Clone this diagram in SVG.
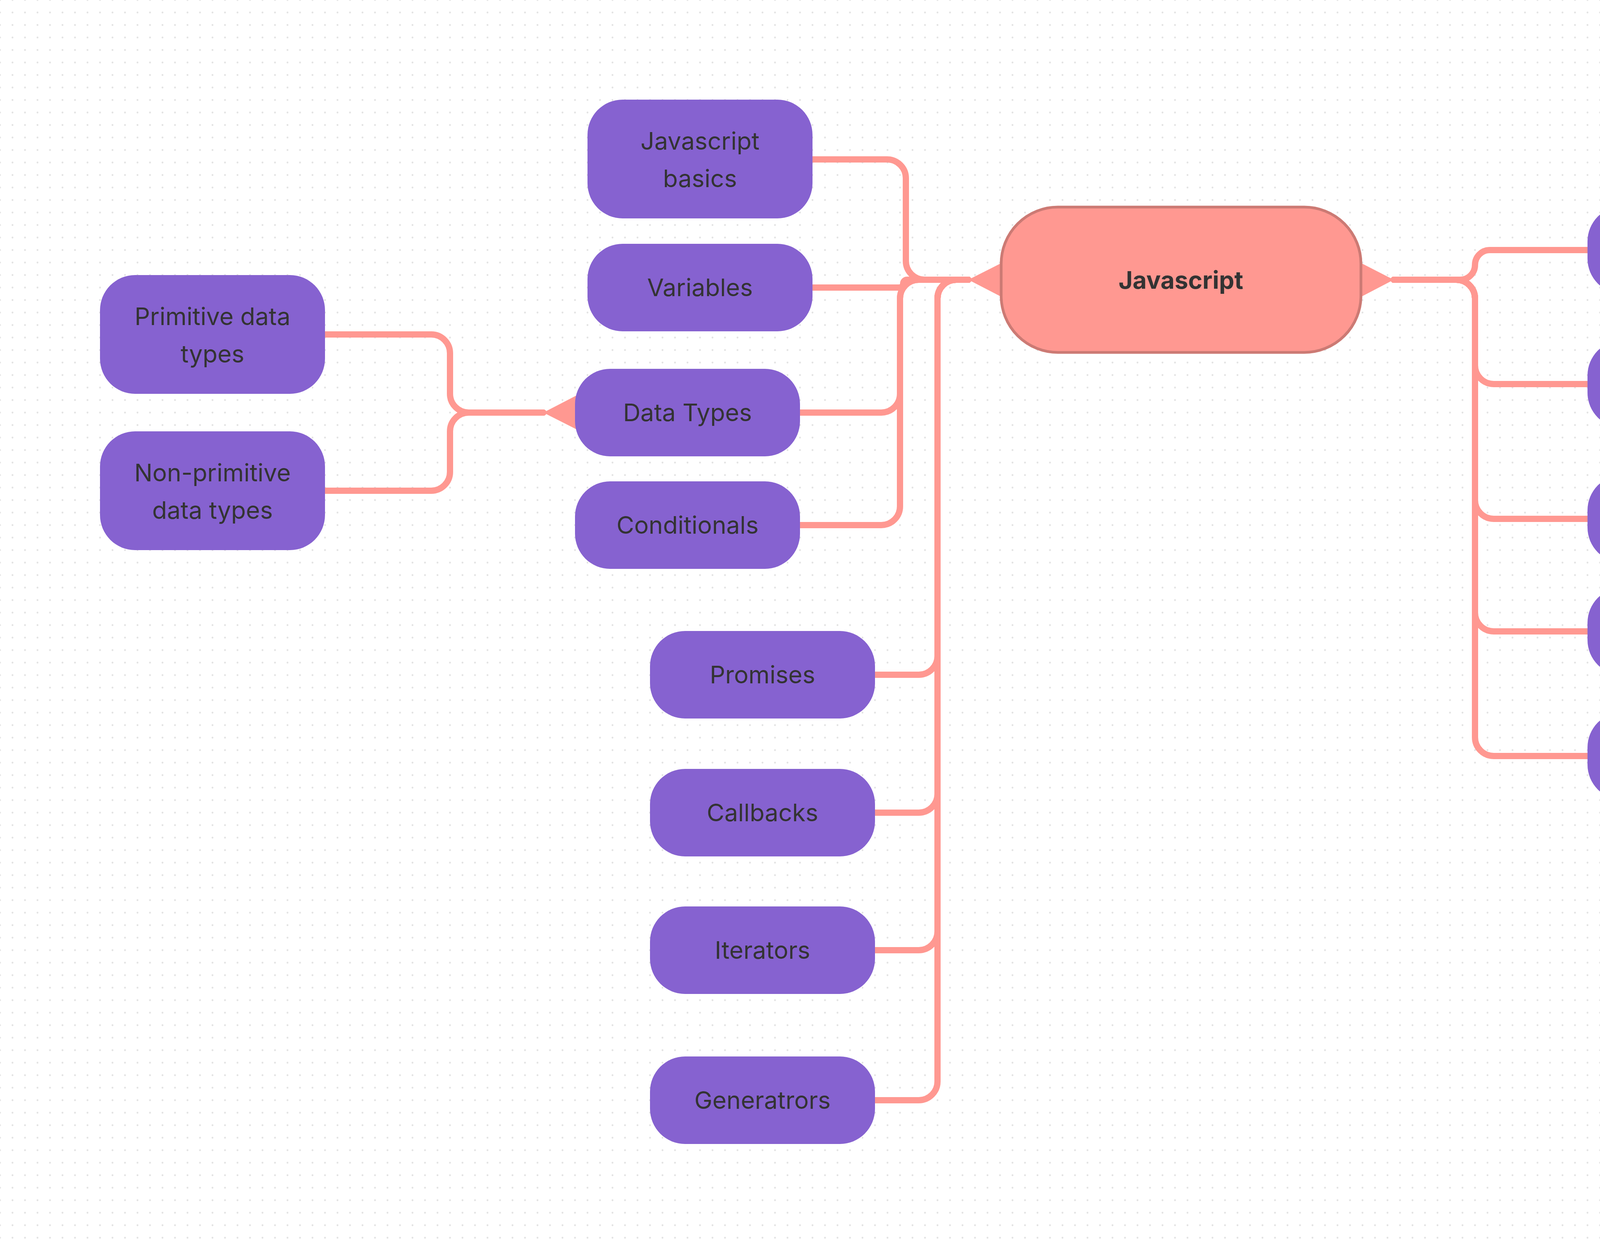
<svg xmlns="http://www.w3.org/2000/svg" width="6112" height="3184" viewBox="0 0 6112 3184">
  <defs>
    <pattern id="dots" x="-16" y="-16" width="32" height="32" patternUnits="userSpaceOnUse">
      <circle cx="16" cy="16" r="2.4" fill="#e3e3e3"/>
    </pattern>
    <style>
      .conn { fill: none; stroke: #ff9891; stroke-width: 16; stroke-linecap: round; stroke-linejoin: round; }
      .tri { fill: #ff9891; }
      .node rect { fill: #8662d0; }
      .node text { font-family: Inter, "Liberation Sans", sans-serif; font-size: 62px; fill: #333333; text-anchor: middle; }
      .root rect { fill: #ff9891; stroke: #cc7a74; stroke-width: 7; }
      .root text { font-family: Inter, "Liberation Sans", sans-serif; font-size: 62px; font-weight: 700; fill: #333333; text-anchor: middle; }
    </style>
  </defs>
  <rect x="0" y="0" width="6112" height="3184" fill="#ffffff"/>
  <rect x="0" y="0" width="6112" height="3184" fill="url(#dots)"/>

  <g id="connectors">
    <!-- right side from Javascript -->
    <path class="conn" d="M3568 716 H3738 A38 38 0 0 0 3776 678 A38 38 0 0 1 3814 640 H4064"/>
    <path class="conn" d="M3568 716 H3728 A48 48 0 0 1 3776 764 V935 A48 48 0 0 0 3824 983 H4064"/>
    <path class="conn" d="M3568 716 H3728 A48 48 0 0 1 3776 764 V1280 A48 48 0 0 0 3824 1328 H4064"/>
    <path class="conn" d="M3568 716 H3728 A48 48 0 0 1 3776 764 V1568 A48 48 0 0 0 3824 1616 H4064"/>
    <path class="conn" d="M3568 716 H3728 A48 48 0 0 1 3776 764 V1887 A48 48 0 0 0 3824 1935 H4064"/>
    <!-- Classes subtree -->
    <path class="conn" d="M4725 1935 H4912 A48 48 0 0 0 4960 1887 V1455 A48 48 0 0 1 5008 1407 H5280"/>
    <path class="conn" d="M4725 1935 H4912 A48 48 0 0 0 4960 1887 V1808 A48 48 0 0 1 5008 1760 H5280"/>
    <path class="conn" d="M4725 1935 H4912 A48 48 0 0 1 4960 1983 V2104 A48 48 0 0 0 5008 2152 H5280"/>
    <path class="conn" d="M4725 1935 H4912 A48 48 0 0 1 4960 1983 V2487 A48 48 0 0 0 5008 2535 H5280"/>
    <!-- left side from Javascript -->
    <path class="conn" d="M2479 716 H2367 A48 48 0 0 1 2319 668 V456 A48 48 0 0 0 2271 408 H2080"/>
    <path class="conn" d="M2479 716 H2322 A10 10 0 0 0 2312 726 A10 10 0 0 1 2302 736 H2080"/>
    <path class="conn" d="M2479 716 H2352 A48 48 0 0 0 2304 764 V1008 A48 48 0 0 1 2256 1056 H2048"/>
    <path class="conn" d="M2479 716 H2352 A48 48 0 0 0 2304 764 V1296 A48 48 0 0 1 2256 1344 H2048"/>
    <path class="conn" d="M2479 716 H2448 A48 48 0 0 0 2400 764 V1679 A48 48 0 0 1 2352 1727 H2240"/>
    <path class="conn" d="M2479 716 H2448 A48 48 0 0 0 2400 764 V2032 A48 48 0 0 1 2352 2080 H2240"/>
    <path class="conn" d="M2479 716 H2448 A48 48 0 0 0 2400 764 V2384 A48 48 0 0 1 2352 2432 H2240"/>
    <path class="conn" d="M2479 716 H2448 A48 48 0 0 0 2400 764 V2768 A48 48 0 0 1 2352 2816 H2240"/>
    <!-- Data Types subtree -->
    <path class="conn" d="M1391 1056 H1200 A48 48 0 0 1 1152 1008 V904 A48 48 0 0 0 1104 856 H832"/>
    <path class="conn" d="M1391 1056 H1200 A48 48 0 0 0 1152 1104 V1208 A48 48 0 0 1 1104 1256 H832"/>
    <!-- branch triangles -->
    <polygon class="tri" points="2570,670 2570,763 2479,716"/>
    <polygon class="tri" points="3478,670 3478,763 3568,716"/>
    <polygon class="tri" points="1478,1011 1478,1100 1391,1056"/>
    <polygon class="tri" points="4634,1890 4634,1981 4725,1935"/>
  </g>

  <g id="node-javascript" class="root">
    <rect x="2563" y="530" width="921" height="372" rx="145" ry="145"/>
    <text x="3023" y="739">Javascript</text>
  </g>

  <g id="node-javascript-basics" class="node">
    <rect x="1504" y="255" width="576" height="304" rx="90"/>
    <text x="1792" y="383">Javascript</text>
    <text x="1792" y="479">basics</text>
  </g>
  <g id="node-variables" class="node">
    <rect x="1504" y="624" width="576" height="224" rx="90"/>
    <text x="1792" y="758">Variables</text>
  </g>
  <g id="node-data-types" class="node">
    <rect x="1472" y="944" width="576" height="224" rx="90"/>
    <text x="1760" y="1078">Data Types</text>
  </g>
  <g id="node-conditionals" class="node">
    <rect x="1472" y="1232" width="576" height="224" rx="90"/>
    <text x="1760" y="1366">Conditionals</text>
  </g>
  <g id="node-primitive" class="node">
    <rect x="256" y="704" width="576" height="304" rx="90"/>
    <text x="544" y="832">Primitive data</text>
    <text x="544" y="928">types</text>
  </g>
  <g id="node-non-primitive" class="node">
    <rect x="256" y="1104" width="576" height="304" rx="90"/>
    <text x="544" y="1232">Non-primitive</text>
    <text x="544" y="1328">data types</text>
  </g>
  <g id="node-promises" class="node">
    <rect x="1664" y="1615" width="576" height="224" rx="90"/>
    <text x="1952" y="1749">Promises</text>
  </g>
  <g id="node-callbacks" class="node">
    <rect x="1664" y="1968" width="576" height="224" rx="90"/>
    <text x="1952" y="2102">Callbacks</text>
  </g>
  <g id="node-iterators" class="node">
    <rect x="1664" y="2320" width="576" height="224" rx="90"/>
    <text x="1952" y="2454">Iterators</text>
  </g>
  <g id="node-generatrors" class="node">
    <rect x="1664" y="2704" width="576" height="224" rx="90"/>
    <text x="1952" y="2838">Generatrors</text>
  </g>

  <g id="node-console-log" class="node">
    <rect x="4064" y="528" width="576" height="224" rx="90"/>
    <text x="4352" y="662">console.log</text>
  </g>
  <g id="node-operators" class="node">
    <rect x="4064" y="871" width="576" height="224" rx="90"/>
    <text x="4352" y="1005">operators</text>
  </g>
  <g id="node-error-handling" class="node">
    <rect x="4064" y="1216" width="576" height="224" rx="90"/>
    <text x="4352" y="1350">Error Handling</text>
  </g>
  <g id="node-scope" class="node">
    <rect x="4064" y="1504" width="576" height="224" rx="90"/>
    <text x="4352" y="1638">Scope</text>
  </g>
  <g id="node-classes" class="node">
    <rect x="4064" y="1823" width="576" height="224" rx="90"/>
    <text x="4352" y="1957">Classes</text>
  </g>

  <g id="node-constructors" class="node">
    <rect x="5280" y="1295" width="576" height="224" rx="90"/>
    <text x="5568" y="1429">constructors</text>
  </g>
  <g id="node-binding-this" class="node">
    <rect x="5280" y="1648" width="576" height="224" rx="90"/>
    <text x="5568" y="1782">Binding “this”</text>
  </g>
  <g id="node-field-decleration" class="node">
    <rect x="5280" y="2000" width="576" height="304" rx="90"/>
    <text x="5568" y="2127">Field</text>
    <text x="5568" y="2223">Decleration</text>
  </g>
  <g id="node-subclassing" class="node">
    <rect x="5280" y="2383" width="576" height="304" rx="90"/>
    <text x="5568" y="2510">Subclassing</text>
    <text x="5568" y="2606">with extends</text>
  </g>
</svg>
